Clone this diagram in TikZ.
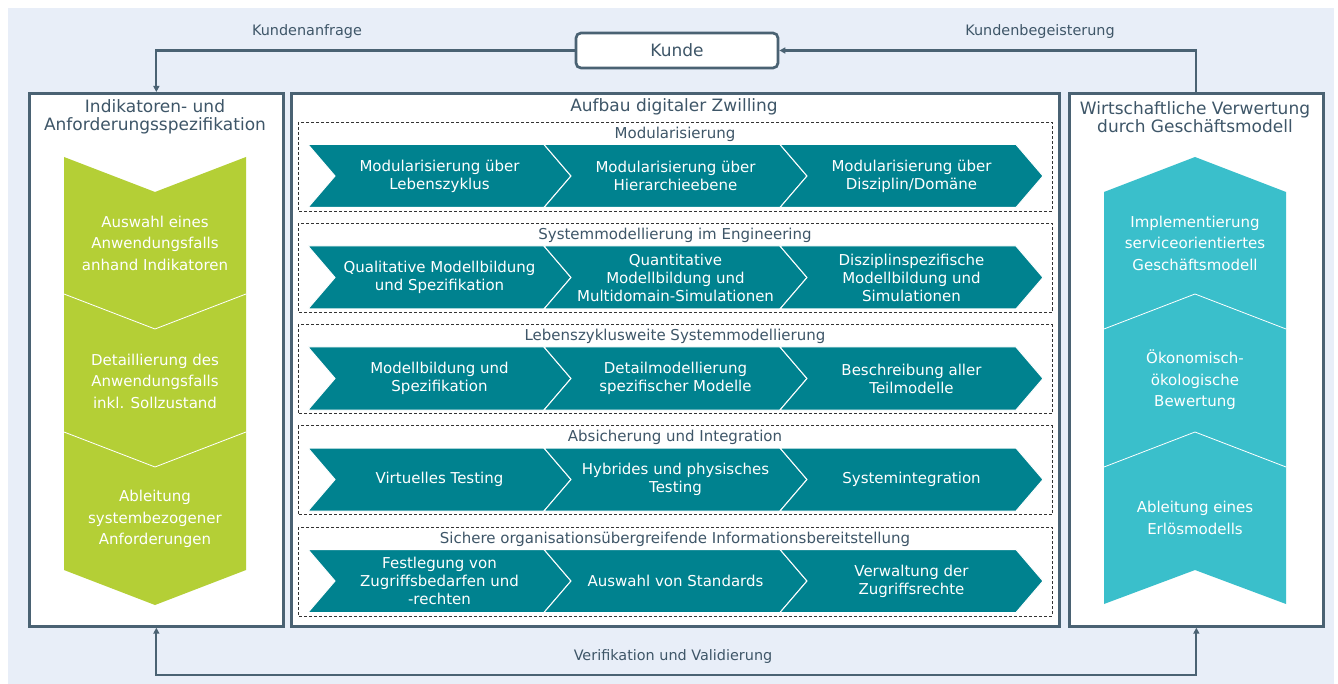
\documentclass[tikz,border=0pt]{standalone}
\usepackage{fontspec}
\setmainfont{DejaVu Sans}
\usetikzlibrary{arrows.meta}
\definecolor{bgblue}{HTML}{E8EEF8}
\definecolor{framec}{HTML}{4A6273}
\definecolor{textc}{HTML}{3E5668}
\definecolor{tealc}{HTML}{00828F}
\definecolor{greenc}{HTML}{B4CF36}
\definecolor{cyanc}{HTML}{3ABFCB}
\newcommand\chevpath[2]{\fill[tealc, draw=white, line width=1pt] (#1,#2-31.5) -- ++(236,0) -- ++(27,31.5) -- ++(-27,31.5) -- ++(-236,0) -- ++(27,-31.5) -- cycle;}
\newcommand\chevrow[6]{%
  \draw[dbox] (298,#2-54) rectangle (1052,#2+35);
  \node[subt] (#1t) at (675,#2-42) {#3};
  \chevpath{308}{#2}
  \chevpath{544}{#2}
  \chevpath{780}{#2}
  \node[chevtxt] (#1a) at (439.5,#2) {#4};
  \node[chevtxt] (#1b) at (675.5,#2) {#5};
  \node[chevtxt] (#1c) at (911.5,#2) {#6};
}
\begin{document}
\begin{tikzpicture}[x=1pt,y=-1pt,
  frame/.style={draw=framec, line width=2.7pt, fill=white},
  conn/.style={draw=framec, line width=2.2pt},
  tip/.tip={Triangle[length=6pt,width=6pt]},
  lbl/.style={text=textc, font=\fontsize{14.4}{17}\selectfont, inner sep=0pt},
  title/.style={text=textc, font=\fontsize{17}{18.5}\selectfont, align=center, inner sep=0pt},
  subt/.style={text=textc, font=\fontsize{15}{18}\selectfont, inner sep=0pt},
  chevtxt/.style={text=white, font=\fontsize{15}{18}\selectfont, align=center, inner sep=0pt},
  sidetxt/.style={text=white, font=\fontsize{15}{21.5}\selectfont, align=center, inner sep=0pt},
  dbox/.style={draw=black!80, line width=0.8pt, dash pattern=on 3pt off 2pt}
]
\useasboundingbox (0,0) rectangle (1338,684);
\fill[bgblue] (8,8) rectangle (1334,684);

% main boxes
\node[frame, minimum width=254, minimum height=533, anchor=north west] (left) at (28,92) {};
\node[frame, minimum width=768, minimum height=533, anchor=north west] (mid) at (290,92) {};
\node[frame, minimum width=254, minimum height=533, anchor=north west] (right) at (1068,92) {};
\node[frame, rounded corners=5pt, minimum width=202, minimum height=35, text=textc, font=\fontsize{17}{18.5}\selectfont] (kunde) at (677,50.5) {Kunde};

% connectors
\draw[conn, -tip] (kunde.west) -| (left.north);
\draw[conn, -tip] (right.north) |- (kunde.east);
\draw[conn, tip-tip] (left.south) -- ++(0,47) -| (right.south);

\node[lbl] (kanf) at (307,32) {Kundenanfrage};
\node[lbl] (kbeg) at (1040,32) {Kundenbegeisterung};
\node[lbl] (veri) at (673,657) {Verifikation und Validierung};

% titles
\node[title] (lt) at (155,117) {Indikatoren- und\\Anforderungsspezifikation};
\node[title] (rt) at (1195,117) {Wirtschaftliche Verwertung\\durch Geschäftsmodell};
\node[title] (mt) at (674,107) {Aufbau digitaler Zwilling};

% left green chevron
\fill[greenc] (64,157) -- (155,192) -- (246,157) -- (246,570) -- (155,605) -- (64,570) -- cycle;
\draw[white, line width=0.8pt] (64,294) -- (155,329) -- (246,294);
\draw[white, line width=0.8pt] (64,432) -- (155,467) -- (246,432);
\node[sidetxt] (g1) at (155,243) {Auswahl eines\\Anwendungsfalls\\anhand Indikatoren};
\node[sidetxt] (g2) at (155,381) {Detaillierung des\\Anwendungsfalls\\inkl. Sollzustand};
\node[sidetxt] (g3) at (155,519) {Ableitung\\systembezogener\\Anforderungen};

% right cyan chevron
\fill[cyanc] (1104,192) -- (1195,157) -- (1286,192) -- (1286,604) -- (1195,570) -- (1104,604) -- cycle;
\draw[white, line width=0.8pt] (1104,329) -- (1195,294) -- (1286,329);
\draw[white, line width=0.8pt] (1104,467) -- (1195,432) -- (1286,467);
\node[sidetxt] (c1) at (1195,243) {Implementierung\\serviceorientiertes\\Geschäftsmodell};
\node[sidetxt] (c2) at (1195,380) {Ökonomisch-\\ökologische\\Bewertung};
\node[sidetxt] (c3) at (1195,518) {Ableitung eines\\Erlösmodells};

% middle rows
\chevrow{ra}{176}{Modularisierung}{Modularisierung über\\Lebenszyklus}{Modularisierung über\\Hierarchieebene}{Modularisierung über\\Disziplin/Domäne}
\chevrow{rb}{277.5}{Systemmodellierung im Engineering}{Qualitative Modellbildung\\und Spezifikation}{Quantitative\\Modellbildung und\\Multidomain-Simulationen}{Disziplinspezifische\\Modellbildung und\\Simulationen}
\chevrow{rc}{378.5}{Lebenszyklusweite Systemmodellierung}{Modellbildung und\\Spezifikation}{Detailmodellierung\\spezifischer Modelle}{Beschreibung aller\\Teilmodelle}
\chevrow{rd}{479.5}{Absicherung und Integration}{Virtuelles Testing}{Hybrides und physisches\\Testing}{Systemintegration}
\chevrow{re}{581}{Sichere organisationsübergreifende Informationsbereitstellung}{Festlegung von\\Zugriffsbedarfen und\\-rechten}{Auswahl von Standards}{Verwaltung der\\Zugriffsrechte}
\end{tikzpicture}
\end{document}
